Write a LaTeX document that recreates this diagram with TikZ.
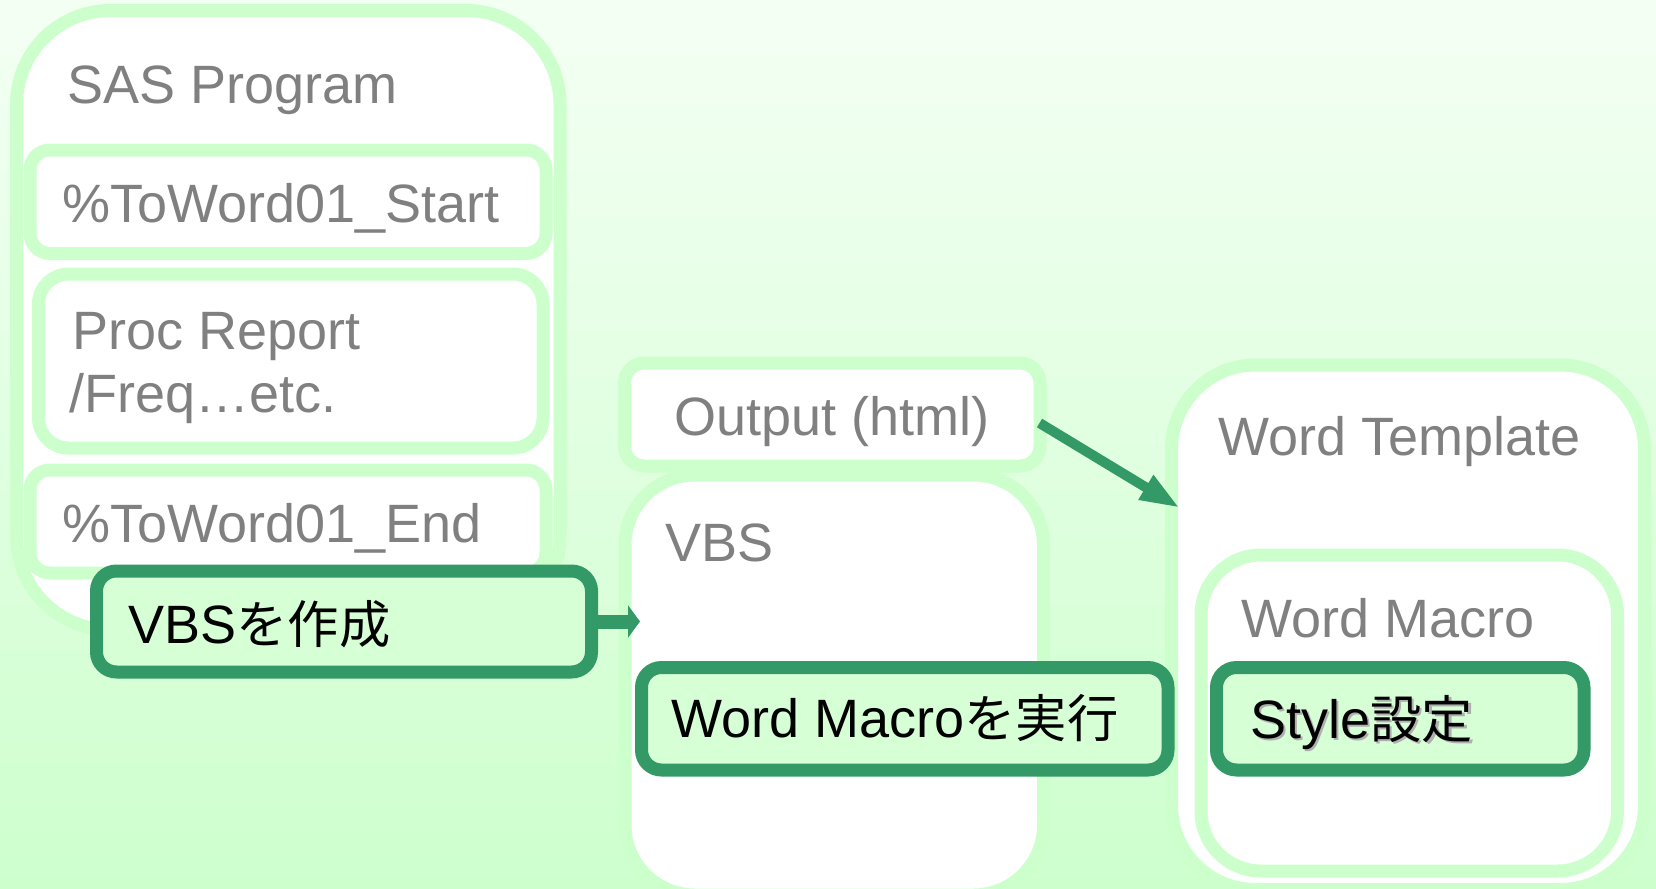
\documentclass[tikz,border=0pt]{standalone}
\usepackage{fontspec}
\setmainfont{Liberation Sans}
\newfontfamily\cjk[Scale=0.95]{Noto Sans CJK JP}
\usetikzlibrary{fit,arrows.meta}
\definecolor{lgreen}{HTML}{CCFFCC}
\definecolor{dgreen}{HTML}{339966}
\definecolor{dfill}{HTML}{D6FFD6}
\definecolor{tgray}{HTML}{808080}
\definecolor{bgtop}{HTML}{F4FFF4}
\definecolor{bgbot}{HTML}{CDFFCD}
\definecolor{shadowgray}{HTML}{B0B0B0}
\tikzset{
  lbox/.style={draw=lgreen, line width=6.5pt, fill=white, inner sep=0pt},
  dbox/.style={draw=dgreen, line width=6.5pt, fill=dfill, inner sep=0pt, rounded corners=10pt},
  txt/.style={inner sep=0pt, anchor=base west, font=\fontsize{27}{32}\selectfont},
  gtxt/.style={txt, text=tgray},
  btxt/.style={txt, text=black},
  conn/.style={draw=dgreen},
}
\begin{document}
\begin{tikzpicture}[x=0.5pt,y=-0.5pt]
\useasboundingbox (0,0) rectangle (1656,889);
\clip (0,0) rectangle (1656,889);
\shade[top color=bgtop, bottom color=bgbot] (0,0) rectangle (1656,889);

% SAS program
\node[lbox, rounded corners=47pt, fit={(16.5,10.5) (560,630)}] (sas) {};
\node[gtxt] (sast) at (67,103) {SAS Program};
\node[lbox, rounded corners=10pt, fit={(30,150) (546,253.5)}] (start) {};
\node[gtxt] (startt) at (62,222) {\%ToWord01\_Start};
\node[lbox, rounded corners=15pt, fit={(38.5,274) (543,448)}] (proc) {};
\node[gtxt] (proct1) at (72,349) {Proc Report};
\node[gtxt] (proct2) at (69,412) {/Freq…etc.};
\node[lbox, rounded corners=10pt, fit={(30,470) (546,573)}] (end) {};
\node[gtxt] (endt) at (62,542) {\%ToWord01\_End};

% VBS make
\node[dbox, fit={(96.5,571) (591.5,672)}] (vbsmk) {};
\node[btxt] (vbsmkt) at (128,643) {VBS{\cjk を作成}};

% Output
\node[lbox, rounded corners=10pt, fit={(624.5,363) (1040,466)}] (output) {};
\node[gtxt, anchor=base] (outputt) at (832,435) {Output (html)};

% VBS
\node[lbox, rounded corners=35pt, fit={(625,475) (1043.5,895)}] (vbs) {};
\node[gtxt] (vbst) at (665,561) {VBS};

% Word template
\node[lbox, rounded corners=42pt, fit={(1171.5,365) (1644.5,889.5)}] (tmpl) {};
\node[gtxt] (tmplt) at (1218,455) {Word Template};
\node[lbox, rounded corners=30pt, fit={(1201,555) (1617.5,871)}] (macro) {};
\node[gtxt] (macrot) at (1241,637) {Word Macro};
\node[dbox, fit={(1216.5,667.5) (1584,770)}] (style) {};
\node[btxt, text=shadowgray] (stylesh) at (1252.5,740.5) {Style{\cjk 設定}};
\node[btxt] (stylet) at (1250,738) {Style{\cjk 設定}};

% Run macro
\node[dbox, fit={(641.5,667.5) (1168,770)}] (run) {};
\node[btxt] (runt) at (671,737) {Word Macro{\cjk を実行}};

% connectors
\coordinate (a1tip) at (640,621.5);
\coordinate (a2tip) at (1180,508);
\draw[conn, line width=7pt, -{Triangle[length=6pt,width=16pt]}] (vbsmk.east) -- (a1tip);
\draw[conn, line width=5pt, -{Triangle[length=20pt,width=13pt]}] ([xshift=-3.5pt,yshift=-4.25pt]output.east) -- (a2tip);
\end{tikzpicture}
\end{document}
